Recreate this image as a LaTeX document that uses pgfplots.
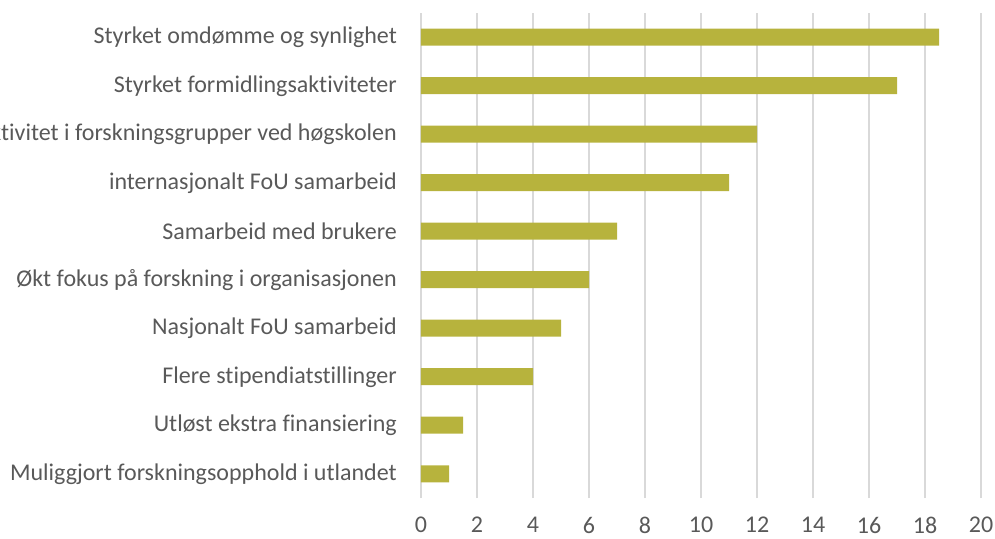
\documentclass[border=0pt]{standalone}
\usepackage{pgfplots}
\pgfplotsset{compat=1.18}
\usepackage{fontspec}
\setmainfont[Ligatures=NoCommon]{Carlito}
\definecolor{barcol}{RGB}{183,179,61}
\definecolor{gridcol}{RGB}{217,217,217}
\definecolor{txt}{RGB}{89,89,89}
\begin{document}
\begin{tikzpicture}[x=1pt,y=1pt]
\begin{axis}[
  at={(421pt,40pt)}, anchor=south west,
  scale only axis, width=560pt, height=485pt,
  xmin=0, xmax=20, ymin=-0.5, ymax=9.5,
  xtick={0,2,...,20},
  ytick={0,...,9},
  yticklabels={Muliggjort forskningsopphold i utlandet,
    Utløst ekstra finansiering,
    Flere stipendiatstillinger,
    Nasjonalt FoU samarbeid,
    Økt fokus på forskning i organisasjonen,
    Samarbeid med brukere,
    internasjonalt FoU samarbeid,
    Økt aktivitet i forskningsgrupper ved høgskolen,
    Styrket formidlingsaktiviteter,
    Styrket omdømme og synlighet},
  xmajorgrids,
  grid style={draw=gridcol, line width=1.5pt},
  axis line style={draw=none},
  major tick length=0pt,
  /pgf/number format/assume math mode=true,
  ticklabel style={font=\fontsize{24}{28}\selectfont, text=txt, inner sep=0pt},
  yticklabel style={xshift=-24pt},
  xticklabel style={yshift=-19pt},
  clip=false,
]
\addplot[xbar, bar width=17pt, fill=barcol, draw=none] coordinates {
  (1,0) (1.5,1) (4,2) (5,3) (6,4) (7,5) (11,6) (12,7) (17,8) (18.5,9)
};
\end{axis}
\pgfresetboundingbox
\useasboundingbox (0,0) rectangle (995pt,538pt);
\end{tikzpicture}
\end{document}
